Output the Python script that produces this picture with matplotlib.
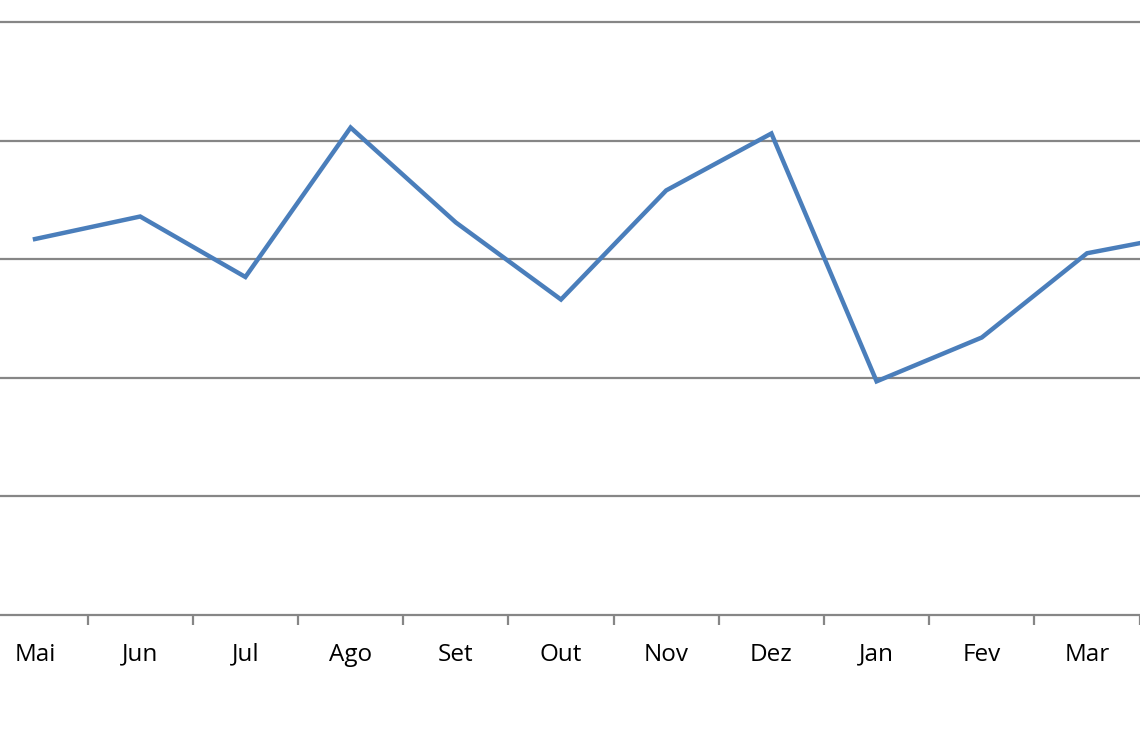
import matplotlib
matplotlib.use("Agg")
import matplotlib.pyplot as plt

months = ["Mai", "Jun", "Jul", "Ago", "Set", "Out", "Nov", "Dez", "Jan", "Fev", "Mar", "Abr"]
values = [3.17, 3.36, 2.85, 4.11, 3.31, 2.66, 3.58, 4.06, 1.97, 2.34, 3.05, 3.22]
y_ticks = [0, 1, 2, 3, 4, 5]

fig = plt.figure(figsize=(11.4, 7.42), dpi=100)
left_px, right_px = -17.6, 1244.8
bottom_px, top_px = 615, 22
W, H = 1140, 742
ax = fig.add_axes([left_px / W, (H - bottom_px) / H,
                   (right_px - left_px) / W, (bottom_px - top_px) / H])

x = list(range(len(months)))
ax.plot(x, values, color="#4a7ebb", linewidth=3.2, solid_joinstyle="miter", zorder=3)

ax.set_xlim(-0.5, len(months) - 0.5)
ax.set_ylim(y_ticks[0], y_ticks[-1])
ax.set_yticks(y_ticks)
for yv in y_ticks:
    ax.axhline(yv, color="#868686", linewidth=1.6, zorder=1, clip_on=False)

ax.set_xticks(x)
labels = ax.set_xticklabels(months, fontsize=17.5, fontfamily="Open Sans", color="black")
for lab in labels:
    lab.set_verticalalignment("baseline")
# the last category label lies outside the visible figure area in the reference
labels[-1].set_visible(False)
ax.tick_params(axis="x", which="major", length=0, pad=33)
ax.set_xticks([i + 0.5 for i in range(-1, len(months))], minor=True)
ax.tick_params(axis="x", which="minor", length=7, width=1.6, color="#868686", direction="out")
ax.tick_params(axis="y", length=0, labelleft=False)
for s in ax.spines.values():
    s.set_visible(False)

fig.savefig("out.png", dpi=100)
